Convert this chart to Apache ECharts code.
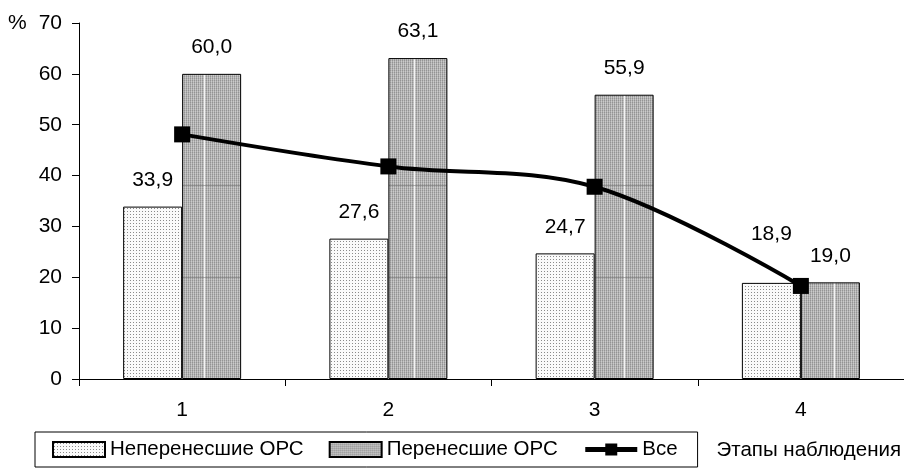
<!DOCTYPE html>
<html>
<head>
<meta charset="utf-8">
<script src="https://cdn.jsdelivr.net/npm/echarts@6/dist/echarts.min.js"></script>
<style>
  html, body { margin: 0; padding: 0; background: #fff; }
  #chart { width: 904px; height: 470px; }
</style>
</head>
<body>
<div id="chart"></div>
<script>
// ---- Data ----
const categories = ['1', '2', '3', '4'];
const seriesNames = ['Неперенесшие ОРС', 'Перенесшие ОРС', 'Все'];
const notIll = [33.9, 27.6, 24.7, 18.9];
const ill = [60.0, 63.1, 55.9, 19.0];
const all = [48.1, 41.8, 37.8, 18.3];
const yTicks = { min: 0, max: 70, interval: 10 };
const yUnit = '%';
const xTitle = 'Этапы наблюдения';

// ---- Styles ----
const FONT = "'Liberation Sans', Arial, sans-serif";
const FS = 21;

function dotPattern() {
  const c = document.createElement('canvas');
  c.width = 3; c.height = 3;
  const g = c.getContext('2d');
  g.fillStyle = '#fafafa'; g.fillRect(0, 0, 3, 3);
  g.fillStyle = '#8a8a8a'; g.fillRect(1, 1, 1, 1);
  return c;
}
function hatchPattern() {
  const w = 210, h = 470;
  const c = document.createElement('canvas');
  c.width = w; c.height = h;
  const g = c.getContext('2d');
  for (let y = 0; y < h; y++) {
    for (let x = 0; x < w; x++) {
      const a = (x + y) % 2 === 0;
      g.fillStyle = (x % 2 === 0) ? (a ? '#949494' : '#a9a9a9') : (a ? '#cbcbcb' : '#bbbbbb');
      g.fillRect(x, y, 1, 1);
    }
  }
  g.fillStyle = '#f4f4f4';
  g.fillRect(204, 0, 1, h);
  g.fillStyle = 'rgba(90,90,90,0.45)';
  g.fillRect(0, 185, w, 1);
  g.fillRect(0, 277, w, 1);
  return c;
}

const fmt = p => Number(p.value).toFixed(1).replace('.', ',');
const labelStyle = {
  show: true, position: 'top', distance: 16,
  color: '#000', fontFamily: FONT, fontSize: FS, formatter: fmt
};
// label of the last light bar is lifted above the line marker
const notIllData = notIll.map((v, i) => i === 3 ? { value: v, label: { offset: [0, -22] } } : v);

const chart = echarts.init(document.getElementById('chart'), null, { renderer: 'canvas' });
chart.setOption({
  animation: false,
  backgroundColor: '#fff',
  textStyle: { fontFamily: FONT, color: '#000' },
  title: {
    text: yUnit, left: 8, top: 13, padding: 0,
    textStyle: { fontFamily: FONT, fontSize: FS, fontWeight: 'normal', color: '#000' }
  },
  grid: { left: 79, right: -1, top: 23, bottom: 91 },
  legend: {
    left: 35, top: 432,
    padding: [7, 20, 7, 17],
    itemGap: 25, itemWidth: 52, itemHeight: 15,
    borderColor: '#000', borderWidth: 1,
    textStyle: { fontFamily: FONT, fontSize: 20.5, color: '#000' },
    data: [
      { name: seriesNames[0], icon: 'rect' },
      { name: seriesNames[1], icon: 'rect' },
      { name: seriesNames[2], lineStyle: { width: 5 } }
    ]
  },
  xAxis: {
    type: 'category',
    data: categories,
    boundaryGap: true,
    name: xTitle,
    nameLocation: 'end',
    nameGap: -3,
    nameTextStyle: { fontFamily: FONT, fontSize: 20.5, color: '#000', align: 'right', verticalAlign: 'top', padding: [61, 0, 0, 0] },
    axisLine: { lineStyle: { color: '#000', width: 1 } },
    axisTick: { show: true, length: 7, lineStyle: { color: '#000' } },
    axisLabel: { color: '#000', fontFamily: FONT, fontSize: FS, margin: 21 },
    splitLine: { show: false }
  },
  yAxis: {
    type: 'value',
    min: yTicks.min, max: yTicks.max, interval: yTicks.interval,
    axisLine: { show: true, lineStyle: { color: '#000', width: 1 } },
    axisTick: { show: true, length: 7, lineStyle: { color: '#000' } },
    axisLabel: { color: '#000', fontFamily: FONT, fontSize: FS, margin: 17 },
    splitLine: { show: false }
  },
  series: [
    {
      name: seriesNames[0], type: 'bar', data: notIllData,
      barWidth: 59, barGap: '0%',
      itemStyle: { color: { image: dotPattern(), repeat: 'repeat' }, borderColor: '#000', borderWidth: 1 },
      label: labelStyle, z: 2
    },
    {
      name: seriesNames[1], type: 'bar', data: ill,
      barWidth: 59, barGap: '0%',
      itemStyle: { color: { image: hatchPattern(), repeat: 'repeat' }, borderColor: '#000', borderWidth: 1 },
      label: labelStyle, z: 2
    },
    {
      name: seriesNames[2], type: 'line', data: all,
      smooth: 0.35,
      symbol: 'rect', symbolSize: 16,
      lineStyle: { color: '#000', width: 4 },
      itemStyle: { color: '#000' },
      z: 5
    }
  ]
});
</script>
</body>
</html>
